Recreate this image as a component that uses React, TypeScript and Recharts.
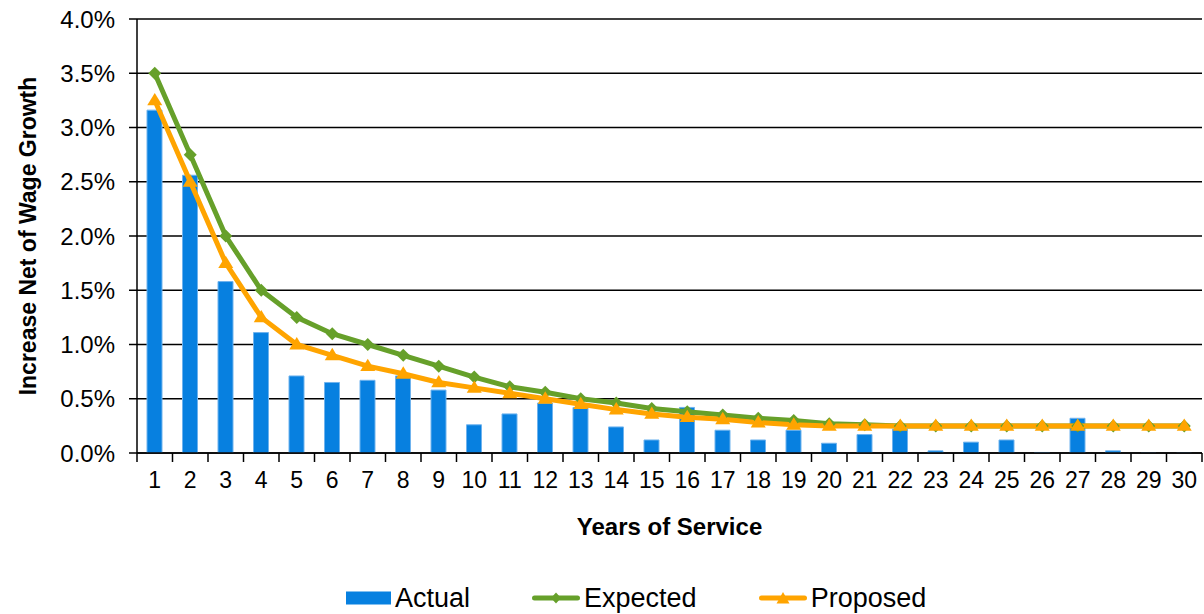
import React from 'react'
import {
  ComposedChart,
  Bar,
  Line,
  XAxis,
  YAxis,
  CartesianGrid,
  Legend,
} from 'recharts'

// years of service on the category axis
const years = [
  '1', '2', '3', '4', '5', '6', '7', '8', '9', '10',
  '11', '12', '13', '14', '15', '16', '17', '18', '19', '20',
  '21', '22', '23', '24', '25', '26', '27', '28', '29', '30',
]

// values in percent
const actual = [
  3.16, 2.56, 1.58, 1.11, 0.71, 0.65, 0.67, 0.71, 0.58, 0.26,
  0.36, 0.46, 0.42, 0.24, 0.12, 0.42, 0.21, 0.12, 0.21, 0.09,
  0.17, 0.22, 0.02, 0.1, 0.12, 0.005, 0.32, 0.02, -0.01, -0.01,
]
const expected = [
  3.5, 2.75, 2.0, 1.5, 1.25, 1.1, 1.0, 0.9, 0.8, 0.7,
  0.61, 0.56, 0.5, 0.46, 0.41, 0.38, 0.35, 0.32, 0.3, 0.27,
  0.26, 0.25, 0.25, 0.25, 0.25, 0.25, 0.25, 0.25, 0.25, 0.25,
]
const proposed = [
  3.25, 2.5, 1.75, 1.25, 1.0, 0.9, 0.8, 0.73, 0.65, 0.6,
  0.55, 0.5, 0.45, 0.4, 0.36, 0.33, 0.31, 0.28, 0.26, 0.25,
  0.25, 0.25, 0.25, 0.25, 0.25, 0.25, 0.25, 0.25, 0.25, 0.25,
]

const yTicks = [0, 0.5, 1, 1.5, 2, 2.5, 3, 3.5, 4]

const rows = years.map((year, i) => ({
  year,
  actual: actual[i],
  expected: expected[i],
  proposed: proposed[i],
}))

const WIDTH = 1204
const HEIGHT = 614
const Y_AXIS_W = 137
const RIGHT = 2
const BAND = (WIDTH - Y_AXIS_W - RIGHT) / years.length

const BLUE = '#0780E0'
const GREEN = '#66A02A'
const ORANGE = '#FFA400'
const FONT = '"Liberation Sans", Arial, sans-serif'

function YearTick(props: any) {
  const { x, y, payload } = props
  const half = BAND / 2
  const last = payload.value === years[years.length - 1]
  return (
    <g>
      <line x1={x - half} x2={x - half} y1={y} y2={y + 9} stroke="#000" strokeWidth={1.5} />
      {last && (
        <line x1={x + half} x2={x + half} y1={y} y2={y + 9} stroke="#000" strokeWidth={1.5} />
      )}
      <text x={x} y={y + 35} textAnchor="middle" fontSize={23} fill="#000">
        {payload.value}
      </text>
    </g>
  )
}

function Diamond(props: any) {
  const { cx, cy } = props
  if (cx == null || cy == null) return <g />
  const r = 6.5
  return (
    <polygon
      points={`${cx},${cy - r} ${cx + r},${cy} ${cx},${cy + r} ${cx - r},${cy}`}
      fill={GREEN}
    />
  )
}

function Triangle(props: any) {
  const { cx, cy } = props
  if (cx == null || cy == null) return <g />
  const r = 7.5
  return (
    <polygon
      points={`${cx},${cy - r} ${cx + r},${cy + r * 0.65} ${cx - r},${cy + r * 0.65}`}
      fill={ORANGE}
    />
  )
}

function LegendBox() {
  const item: React.CSSProperties = { display: 'flex', alignItems: 'center' }
  const label: React.CSSProperties = { fontSize: 27, color: '#000', marginLeft: 4, lineHeight: '32px' }
  return (
    <div style={{ display: 'flex', alignItems: 'center', height: 32, paddingLeft: 346, fontFamily: FONT }}>
      <div style={item}>
        <svg width={45} height={14}>
          <rect x={0} y={0.5} width={45} height={13} fill={BLUE} />
        </svg>
        <span style={label}>Actual</span>
      </div>
      <div style={{ ...item, marginLeft: 62 }}>
        <svg width={48} height={14}>
          <line x1={2.5} x2={45.5} y1={7} y2={7} stroke={GREEN} strokeWidth={5} strokeLinecap="round" />
          <polygon points="24,1.5 29,7 24,12.5 19,7" fill={GREEN} />
        </svg>
        <span style={label}>Expected</span>
      </div>
      <div style={{ ...item, marginLeft: 62 }}>
        <svg width={48} height={14}>
          <line x1={2.5} x2={45.5} y1={7} y2={7} stroke={ORANGE} strokeWidth={5} strokeLinecap="round" />
          <polygon points="24,1 30.5,12.5 17.5,12.5" fill={ORANGE} />
        </svg>
        <span style={label}>Proposed</span>
      </div>
    </div>
  )
}

export default function App() {
  return (
    <div
      style={{
        position: 'absolute',
        left: 0,
        top: 0,
        width: WIDTH,
        height: HEIGHT,
        background: '#fff',
        fontFamily: FONT,
      }}
    >
      <ComposedChart
        width={WIDTH}
        height={HEIGHT}
        data={rows}
        margin={{ top: 19, right: RIGHT, bottom: 0, left: 0 }}
      >
        <CartesianGrid vertical={false} stroke="#000" strokeWidth={1.5} />
        <XAxis
          dataKey="year"
          height={129}
          interval={0}
          tickLine={false}
          tickSize={0}
          tickMargin={0}
          tick={<YearTick />}
          axisLine={{ stroke: '#000', strokeWidth: 1.5 }}
          label={{
            value: 'Years of Service',
            position: 'insideBottom',
            offset: 47,
            fill: '#000',
            fontSize: 24,
            fontWeight: 'bold',
          }}
        />
        <YAxis
          width={Y_AXIS_W}
          domain={[0, 4]}
          ticks={yTicks}
          allowDataOverflow
          interval={0}
          tickFormatter={(v: number) => `${v.toFixed(1)}%`}
          tickSize={8}
          tickMargin={14}
          tick={{ fill: '#000', fontSize: 24 }}
          tickLine={{ stroke: '#000', strokeWidth: 1.5 }}
          axisLine={{ stroke: '#000', strokeWidth: 1.5 }}
          label={{
            value: 'Increase Net of Wage Growth',
            angle: -90,
            position: 'insideLeft',
            offset: 28,
            fill: '#000',
            fontSize: 23,
            fontWeight: 'bold',
            style: { textAnchor: 'middle' },
          }}
        />
        <Bar
          dataKey="actual"
          fill={BLUE}
          stroke="#6FB3EE"
          strokeWidth={1}
          barSize={15}
          isAnimationActive={false}
        />
        <Line
          type="linear"
          dataKey="expected"
          stroke={GREEN}
          strokeWidth={5}
          dot={<Diamond />}
          activeDot={false}
          isAnimationActive={false}
        />
        <Line
          type="linear"
          dataKey="proposed"
          stroke={ORANGE}
          strokeWidth={5}
          dot={<Triangle />}
          activeDot={false}
          isAnimationActive={false}
        />
        <Legend
          verticalAlign="bottom"
          height={32}
          content={() => <LegendBox />}
          wrapperStyle={{ left: 0, width: WIDTH }}
        />
      </ComposedChart>
    </div>
  )
}
